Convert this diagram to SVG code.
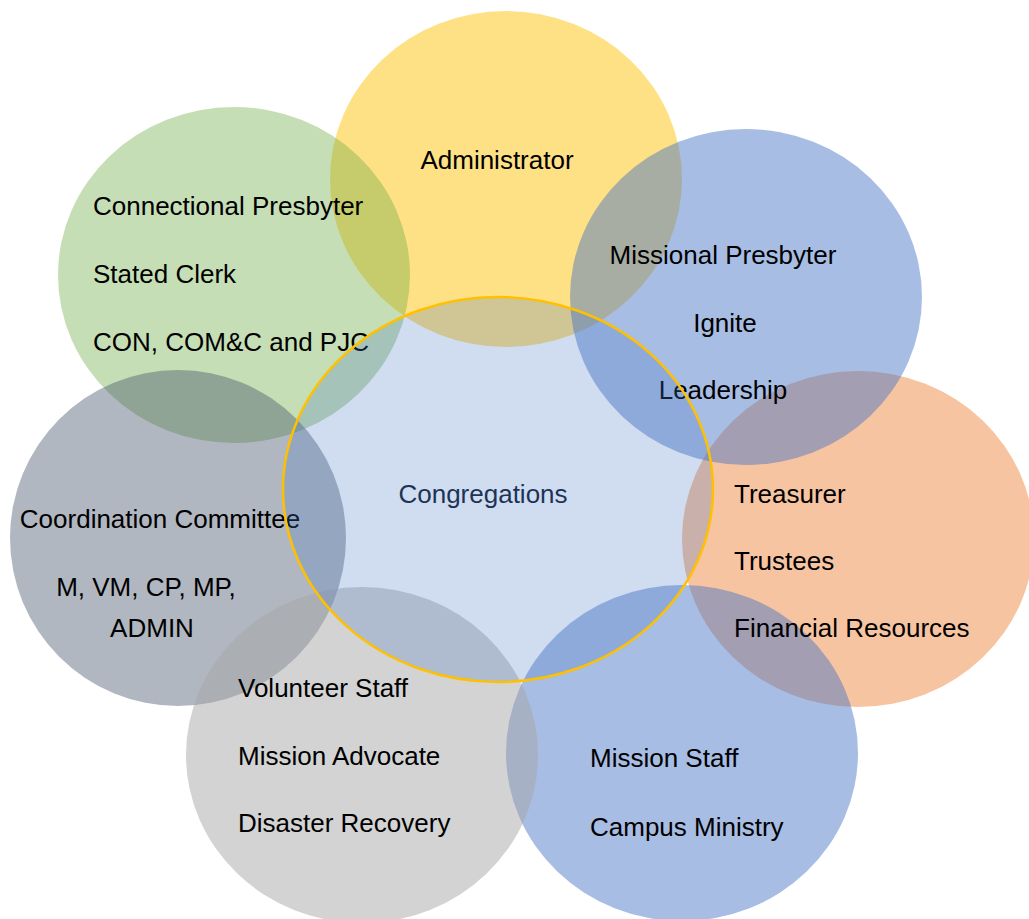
<svg xmlns="http://www.w3.org/2000/svg" width="1029" height="919" viewBox="0 0 1029 919">
<style>
text{font-family:"Liberation Sans",Arial,sans-serif;font-size:26px;fill:#000}
.m{text-anchor:middle}
</style>
<rect width="1029" height="919" fill="#fff"/>
<g id="administrator">
<ellipse cx="506" cy="179" rx="176" ry="168" fill="#FFC000" fill-opacity="0.48"/>
<text class="m" x="497" y="169">Administrator</text>
</g>
<g id="connectional">
<ellipse cx="234" cy="275" rx="176" ry="168" fill="#70AD47" fill-opacity="0.4"/>
<text x="93" y="215">Connectional Presbyter</text>
<text x="93" y="283">Stated Clerk</text>
<text x="93" y="351">CON, COM&amp;C and PJC</text>
</g>
<g id="coordination">
<ellipse cx="178" cy="538" rx="168" ry="168" fill="#44546A" fill-opacity="0.42"/>
<text class="m" x="160" y="528">Coordination Committee</text>
<text class="m" x="146" y="596">M, VM, CP, MP,</text>
<text class="m" x="152" y="637">ADMIN</text>
</g>
<g id="treasurer">
<ellipse cx="858" cy="539" rx="176" ry="168" fill="#ED7D31" fill-opacity="0.45"/>
</g>
<g id="missional">
<ellipse cx="746" cy="297" rx="176" ry="168" fill="#4472C4" fill-opacity="0.47"/>
<text class="m" x="723" y="264">Missional Presbyter</text>
<text class="m" x="725" y="332">Ignite</text>
<text class="m" x="723" y="399">Leadership</text>
</g>
<g id="missionstaff">
<ellipse cx="682" cy="753" rx="176" ry="168" fill="#4472C4" fill-opacity="0.47"/>
<text x="590" y="767">Mission Staff</text>
<text x="590" y="836">Campus Ministry</text>
</g>
<g id="volunteer">
<ellipse cx="362" cy="755" rx="176" ry="168" fill="#A5A5A5" fill-opacity="0.49"/>
<text x="238" y="697">Volunteer Staff</text>
<text x="238" y="765">Mission Advocate</text>
<text x="238" y="832">Disaster Recovery</text>
</g>
<g id="treasurer-label">
<text x="734" y="503">Treasurer</text>
<text x="734" y="570">Trustees</text>
<text x="734" y="637">Financial Resources</text>
</g>
<g id="congregations">
<text class="m" x="483" y="503" style="fill:#111C31">Congregations</text>
<ellipse cx="498" cy="489.5" rx="215" ry="192.5" fill="#4472C4" fill-opacity="0.25" stroke="#FFC000" stroke-width="2.5"/>
</g>
<g id="connectors"></g>
</svg>
